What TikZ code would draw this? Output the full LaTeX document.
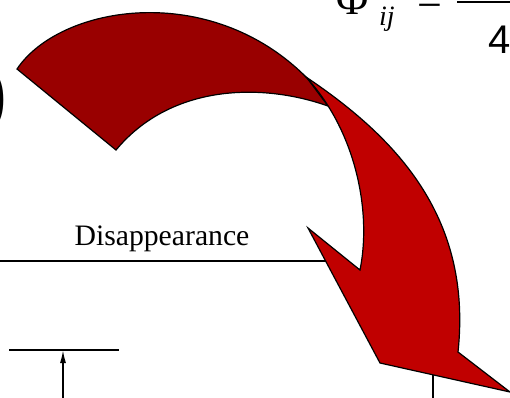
\documentclass[tikz,border=0pt]{standalone}
\usepackage{fontspec}
\setmainfont{Liberation Serif}
\newfontfamily\digitfont{Liberation Sans}
\usetikzlibrary{arrows.meta}
\definecolor{arrowdark}{RGB}{153,0,0}
\definecolor{arrowred}{RGB}{192,0,0}

\begin{document}
\begin{tikzpicture}[x=1pt, y=-1pt,
			>={Latex[length=13pt,width=6pt]},   %Pfeilspitzen
			rule/.style={line width=1.6pt},
			band/.style={draw=black, line width=1.2pt, line join=miter},
			formula/.style={inner sep=0pt, font=\fontsize{44}{44}\selectfont}]
			%Bildbereich
			\useasboundingbox (0,0) rectangle (510,397);
			% Linien zeichnen
			\coordinate (disL) at (0,261);
			\coordinate (disR) at (340,261);
			\draw[rule] (disL) -- (disR);
			\node[anchor=base, inner sep=0pt, font=\fontsize{29.7}{30}\selectfont] (dis) at (162,245) {Disappearance};
			\coordinate (tL) at (9,350);
			\coordinate (tR) at (119,350);
			\coordinate (tFoot) at (63,400);
			\coordinate (tHead) at (63,350);
			\draw[rule] (tL) -- (tR);
			\draw[rule,->] (tFoot) -- (tHead);
			\coordinate (rTop) at (433,365);
			\coordinate (rFoot) at (433,400);
			\draw[rule] (rTop) -- (rFoot);
			% Klammer links
			\node[anchor=base east, inner sep=0pt, font=\fontsize{84}{84}\selectfont] (paren) at (8,120) {)};
			% Gebogener Pfeil
			\draw[band, fill=arrowdark] (17,69) .. controls (60,5) and (210,-20) .. (307,78) -- (328,106)
				.. controls (260,82) and (170,85) .. (116,150) -- cycle;
			\draw[band, fill=arrowred] (306,77) .. controls (400,140) and (472,220) .. (458,352)
				-- (510,392) -- (380,363) -- (308,228) -- (360,270)
				.. controls (372,210) and (355,130) .. (306,77) -- cycle;
			% Formel
			\node[formula, anchor=base] (phi) at (353,14) {Φ};
			\node[anchor=base west, inner sep=0pt, font=\fontsize{28}{28}\selectfont\itshape] (sub) at (379,25) {ij};
			\node[formula, anchor=base] (eq) at (430,15) {=};
			\coordinate (barL) at (457,2);
			\coordinate (barR) at (520,2);
			\draw[line width=2pt] (barL) -- (barR);
			\node[formula, anchor=base, font=\digitfont\fontsize{40}{40}\selectfont] (four) at (500,53) {4};
		\end{tikzpicture}
\end{document}
